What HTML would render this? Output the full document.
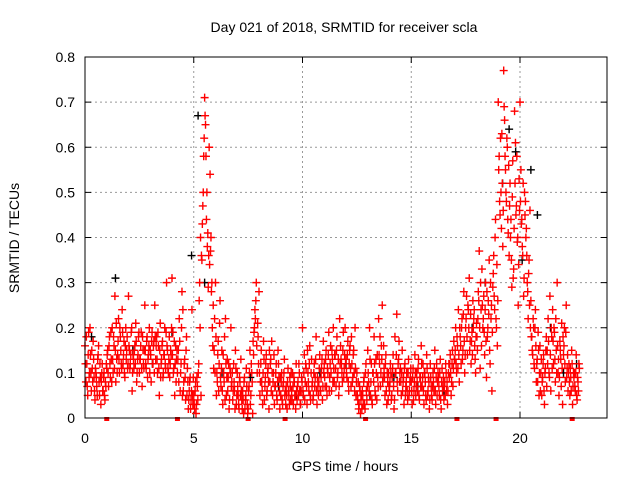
<!DOCTYPE html>
<html><head><meta charset="utf-8"><style>
body{margin:0;background:#fff;}
svg{display:block;font-family:"Liberation Sans",sans-serif;}
</style></head><body>
<svg id="chart" width="640" height="480">
<rect width="640" height="480" fill="#fff"/>
<text x="344" y="32" font-size="14" text-anchor="middle">Day 021 of 2018, SRMTID for receiver scla</text>
<text x="345" y="471" font-size="14" text-anchor="middle">GPS time / hours</text>
<text transform="translate(19,238) rotate(-90)" font-size="14" text-anchor="middle">SRMTID / TECUs</text>
<g id="grid"></g><g id="axes"></g><g id="marks"></g>
<rect x="85" y="57" width="522" height="361" fill="none" stroke="#000" stroke-width="1"/>
</svg>
<script>
const xTicks=[0,5,10,15,20];
const yTicks=[0,0.1,0.2,0.3,0.4,0.5,0.6,0.7,0.8];
const yTickLabels=["0","0.1","0.2","0.3","0.4","0.5","0.6","0.7","0.8"];
const bucketHours=0.25;
// red series: values per 0.25-hour bucket starting at 0
const redValues=[
[0.16,0.08,0.12,0.05,0.19,0.1],[0.14,0.06,0.11,0.17,0.09,0.04],[0.1,0.07,0.13,0.16,0.05,0.09],[0.08,0.12,0.06,0.1,0.04,0.07],
[0.11,0.15,0.07,0.18,0.09,0.13],[0.2,0.1,0.16,0.27,0.08,0.13],[0.14,0.22,0.1,0.18,0.12,0.24],[0.12,0.17,0.09,0.2,0.15,0.11],
[0.27,0.15,0.12,0.19,0.06,0.14],[0.11,0.16,0.21,0.08,0.13,0.18],[0.1,0.13,0.19,0.07,0.15,0.11],[0.25,0.12,0.17,0.09,0.14,0.2],
[0.15,0.08,0.19,0.12,0.17,0.25],[0.13,0.18,0.1,0.16,0.05,0.21],[0.12,0.16,0.09,0.14,0.2,0.11],[0.3,0.15,0.1,0.18,0.12,0.14],
[0.31,0.19,0.11,0.05,0.16,0.13],[0.1,0.15,0.22,0.06,0.12,0.28],[0.24,0.08,0.13,0.04,0.18,0.11],[0.02,0.06,0.09,0.04,0.24,0.03],
[0.05,0.02,0.08,0.03,0.07,0.1],[0.26,0.2,0.05,0.35,0.47,0.58],[0.71,0.65,0.44,0.38,0.29,0.6],[0.54,0.4,0.3,0.16,0.11,0.22],
[0.3,0.05,0.08,0.17,0.12,0.26],[0.07,0.15,0.03,0.1,0.18,0.22],[0.05,0.13,0.09,0.02,0.11,0.2],[0.08,0.04,0.12,0.06,0.15,0.03],
[0.1,0.05,0.02,0.08,0.13,0.04],[0.06,0.01,0.09,0.04,0.11,0.03],[0.02,0.07,0.15,0.05,0.1,0.01],[0.14,0.2,0.22,0.3,0.1,0.18],
[0.28,0.05,0.12,0.08,0.03,0.17],[0.04,0.09,0.14,0.06,0.11,0.02],[0.08,0.13,0.17,0.05,0.1,0.03],[0.07,0.12,0.04,0.15,0.09,0.02],
[0.05,0.1,0.03,0.08,0.13,0.06],[0.07,0.02,0.11,0.05,0.09,0.04],[0.06,0.1,0.03,0.08,0.05,0.12],[0.04,0.08,0.12,0.06,0.03,0.09],
[0.2,0.05,0.14,0.08,0.11,0.03],[0.1,0.06,0.16,0.04,0.13,0.08],[0.05,0.12,0.09,0.18,0.03,0.07],[0.08,0.14,0.06,0.11,0.04,0.17],
[0.12,0.07,0.15,0.05,0.1,0.19],[0.09,0.16,0.06,0.13,0.2,0.08],[0.14,0.07,0.18,0.1,0.05,0.22],[0.16,0.12,0.08,0.19,0.11,0.2],
[0.13,0.09,0.17,0.06,0.15,0.11],[0.18,0.08,0.14,0.1,0.2,0.05],[0.1,0.04,0.02,0.07,0.01,0.05],[0.06,0.03,0.09,0.02,0.12,0.04],
[0.15,0.08,0.2,0.05,0.12,0.03],[0.1,0.18,0.06,0.13,0.04,0.09],[0.22,0.12,0.07,0.16,0.25,0.09],[0.11,0.05,0.14,0.03,0.08,0.1],
[0.06,0.12,0.04,0.09,0.14,0.02],[0.18,0.1,0.23,0.06,0.13,0.08],[0.11,0.05,0.15,0.08,0.03,0.12],[0.07,0.1,0.04,0.13,0.06,0.09],
[0.08,0.03,0.11,0.06,0.14,0.05],[0.1,0.06,0.13,0.04,0.09,0.16],[0.07,0.12,0.03,0.1,0.05,0.14],[0.05,0.09,0.02,0.12,0.07,0.04],
[0.1,0.06,0.15,0.03,0.12,0.08],[0.09,0.05,0.13,0.02,0.11,0.07],[0.04,0.08,0.12,0.06,0.03,0.1],[0.09,0.14,0.05,0.12,0.07,0.17],
[0.13,0.2,0.1,0.16,0.24,0.08],[0.18,0.12,0.22,0.15,0.28,0.1],[0.2,0.27,0.14,0.24,0.31,0.17],[0.12,0.19,0.26,0.22,0.16,0.1],
[0.21,0.15,0.28,0.37,0.11,0.24],[0.33,0.2,0.27,0.14,0.3,0.09],[0.18,0.26,0.35,0.12,0.22,0.06],[0.29,0.36,0.24,0.44,0.2,0.16],
[0.7,0.58,0.45,0.5,0.63,0.38],[0.77,0.66,0.55,0.48,0.6,0.41],[0.36,0.52,0.44,0.29,0.57,0.33],[0.68,0.61,0.47,0.39,0.25,0.53],
[0.7,0.55,0.44,0.36,0.27,0.5],[0.48,0.42,0.3,0.22,0.35,0.46],[0.26,0.18,0.14,0.2,0.11,0.24],[0.08,0.13,0.19,0.05,0.16,0.1],
[0.05,0.09,0.14,0.03,0.11,0.18],[0.15,0.22,0.1,0.27,0.06,0.18],[0.24,0.12,0.19,0.08,0.15,0.3],[0.1,0.05,0.17,0.13,0.21,0.03],
[0.14,0.2,0.08,0.25,0.11,0.06],[0.12,0.05,0.09,0.15,0.03,0.1],[0.1,0.06,0.14,0.04,0.08,0.12]
];
// second batch of red values per bucket (denser sampling)
const redValues2=[
[0.12,0.18,0.07,0.14,0.09,0.2],[0.1,0.15,0.08,0.13,0.06,0.11],[0.09,0.05,0.14,0.08,0.12,0.03],[0.1,0.06,0.09,0.05,0.08,0.12],
[0.14,0.1,0.16,0.12,0.19,0.08],[0.13,0.18,0.11,0.15,0.21,0.1],[0.17,0.13,0.2,0.15,0.11,0.19],[0.14,0.1,0.16,0.13,0.18,0.12],
[0.16,0.11,0.14,0.2,0.1,0.13],[0.15,0.12,0.17,0.1,0.14,0.19],[0.13,0.16,0.11,0.18,0.12,0.15],[0.15,0.11,0.18,0.13,0.16,0.1],
[0.14,0.17,0.12,0.16,0.1,0.18],[0.16,0.13,0.19,0.11,0.15,0.09],[0.13,0.17,0.1,0.14,0.12,0.19],[0.16,0.11,0.13,0.09,0.15,0.2],
[0.14,0.1,0.17,0.12,0.08,0.15],[0.13,0.08,0.17,0.1,0.2,0.05],[0.06,0.12,0.09,0.15,0.05,0.08],[0.04,0.08,0.02,0.06,0.05,0.09],
[0.03,0.06,0.01,0.09,0.04,0.12],[0.3,0.4,0.36,0.43,0.5,0.62],[0.67,0.58,0.5,0.41,0.36,0.34],[0.37,0.28,0.2,0.25,0.15,0.1],
[0.18,0.1,0.14,0.06,0.21,0.09],[0.11,0.06,0.14,0.08,0.04,0.12],[0.09,0.06,0.12,0.04,0.1,0.07],[0.1,0.06,0.08,0.02,0.11,0.05],
[0.07,0.03,0.09,0.05,0.06,0.02],[0.04,0.08,0.02,0.05,0.07,0.01],[0.06,0.1,0.03,0.12,0.08,0.17],[0.19,0.24,0.26,0.16,0.21,0.12],
[0.1,0.08,0.15,0.06,0.1,0.13],[0.07,0.12,0.05,0.1,0.08,0.15],[0.12,0.06,0.1,0.08,0.14,0.07],[0.1,0.05,0.08,0.12,0.06,0.09],
[0.08,0.04,0.07,0.1,0.05,0.03],[0.05,0.08,0.06,0.03,0.07,0.1],[0.04,0.07,0.09,0.05,0.02,0.06],[0.07,0.05,0.1,0.03,0.06,0.08],
[0.06,0.1,0.04,0.12,0.07,0.15],[0.08,0.12,0.05,0.1,0.07,0.04],[0.1,0.07,0.13,0.06,0.09,0.05],[0.11,0.06,0.09,0.13,0.07,0.1],
[0.09,0.13,0.07,0.11,0.14,0.06],[0.12,0.1,0.15,0.08,0.11,0.14],[0.11,0.15,0.09,0.13,0.07,0.12],[0.13,0.1,0.15,0.09,0.14,0.12],
[0.1,0.14,0.08,0.12,0.16,0.07],[0.12,0.09,0.15,0.06,0.11,0.08],[0.05,0.08,0.03,0.06,0.04,0.02],[0.05,0.08,0.03,0.1,0.06,0.07],
[0.1,0.06,0.13,0.08,0.04,0.1],[0.08,0.12,0.05,0.1,0.14,0.07],[0.14,0.18,0.1,0.13,0.08,0.16],[0.09,0.12,0.06,0.1,0.04,0.07],
[0.08,0.1,0.05,0.11,0.07,0.04],[0.1,0.14,0.08,0.12,0.17,0.1],[0.08,0.1,0.06,0.09,0.11,0.05],[0.08,0.06,0.1,0.05,0.08,0.11],
[0.06,0.09,0.04,0.08,0.1,0.07],[0.08,0.11,0.05,0.09,0.07,0.12],[0.09,0.06,0.1,0.08,0.04,0.11],[0.06,0.08,0.04,0.09,0.05,0.07],
[0.08,0.11,0.06,0.09,0.05,0.1],[0.07,0.1,0.04,0.08,0.06,0.09],[0.07,0.05,0.1,0.08,0.06,0.12],[0.12,0.1,0.08,0.15,0.11,0.13],
[0.15,0.12,0.18,0.11,0.14,0.2],[0.16,0.2,0.13,0.23,0.17,0.14],[0.22,0.18,0.25,0.2,0.15,0.23],[0.17,0.14,0.2,0.24,0.13,0.18],
[0.18,0.22,0.26,0.2,0.3,0.16],[0.25,0.22,0.19,0.24,0.17,0.28],[0.2,0.23,0.15,0.3,0.25,0.19],[0.32,0.27,0.4,0.22,0.34,0.26],
[0.55,0.48,0.62,0.42,0.52,0.46],[0.69,0.58,0.5,0.62,0.44,0.56],[0.47,0.4,0.35,0.49,0.31,0.42],[0.52,0.45,0.58,0.4,0.34,0.46],
[0.48,0.43,0.38,0.52,0.31,0.45],[0.4,0.36,0.28,0.32,0.25,0.2],[0.18,0.15,0.22,0.12,0.2,0.16],[0.12,0.08,0.15,0.1,0.06,0.13],
[0.08,0.12,0.06,0.1,0.15,0.07],[0.12,0.17,0.09,0.14,0.2,0.11],[0.17,0.2,0.13,0.22,0.1,0.16],[0.13,0.09,0.15,0.07,0.11,0.18],
[0.16,0.12,0.19,0.09,0.14,0.1],[0.08,0.11,0.06,0.12,0.07,0.09],[0.07,0.1,0.05,0.09,0.06,0.11]
];
// black series (times, values)
const blackTimes=[0.3,1.4,2.2,3.1,4.0,4.9,5.2,5.5,6.3,7.6,8.9,9.7,10.8,12.0,13.1,14.2,15.3,16.5,17.8,18.4,19.2,19.5,19.8,20.1,20.5,20.8,21.4,22.0,22.6];
const blackValues=[0.18,0.31,0.15,0.12,0.19,0.36,0.67,0.3,0.1,0.09,0.07,0.05,0.1,0.12,0.05,0.09,0.07,0.06,0.2,0.3,0.52,0.64,0.59,0.35,0.55,0.45,0.2,0.1,0.12];
// markers on the time axis
const gapTimes=[1.0,4.25,7.5,9.2,12.9,17.1,18.9,22.4];
const X0=85,X1=607,Y0=418,Y1=57;
const xs=t=>X0+t/24*(X1-X0);
const ys=v=>Y0-v/0.8*(Y0-Y1);
const NS="http://www.w3.org/2000/svg";
const grid=document.getElementById('grid'),axes=document.getElementById('axes'),marks=document.getElementById('marks');
function mk(tag,attrs,parent){const e=document.createElementNS(NS,tag);for(const k in attrs)e.setAttribute(k,attrs[k]);parent.appendChild(e);return e;}
xTicks.forEach(t=>{
 const x=xs(t);
 if(t>0){const g=mk('line',{x1:x,x2:x,y1:Y0,y2:Y1,stroke:'#999','stroke-dasharray':'2,3'},grid);
 
 }
 mk('line',{x1:x,x2:x,y1:Y0,y2:Y0-6,stroke:'#000'},axes);
 mk('line',{x1:x,x2:x,y1:Y1,y2:Y1+6,stroke:'#000'},axes);
 const l=mk('text',{x:x,y:Y0+25,'font-size':14,'text-anchor':'middle'},axes);l.textContent=t;
 
 
});
yTicks.forEach((v,i)=>{
 const y=ys(v);
 if(v>0&&v<0.8){const g=mk('line',{x1:X0,x2:X1,y1:y,y2:y,stroke:'#999','stroke-dasharray':'2,3'},grid);
 
 }
 mk('line',{x1:X0,x2:X0+6,y1:y,y2:y,stroke:'#000'},axes);
 mk('line',{x1:X1,x2:X1-6,y1:y,y2:y,stroke:'#000'},axes);
 const l=mk('text',{x:X0-10,y:y+5,'font-size':14,'text-anchor':'end'},axes);l.textContent=yTickLabels[i];
 
 
});
function plus(t,v,col){
 const x=xs(t),y=ys(v);
 return mk('path',{d:`M${x-4},${y}h8M${x},${y-4}v8`,stroke:col,'stroke-width':1.4,fill:'none'},marks);
}
blackTimes.forEach((t,i)=>{
 const p=plus(t,blackValues[i],'#000');
 
 
});
[redValues,redValues2].forEach((arr,k)=>{
 arr.forEach((vals,b)=>{
  vals.forEach((v,j)=>{
   const t=b*bucketHours+(j+k*0.5)*bucketHours/vals.length;
   const p=plus(t,v,'#f00');
   
   
  });
 });
});
gapTimes.forEach(t=>{
 const r=mk('rect',{x:xs(t)-2.5,y:Y0-1,width:5,height:4,fill:'#f00'},marks);
 
 
});
</script>
</body></html>
